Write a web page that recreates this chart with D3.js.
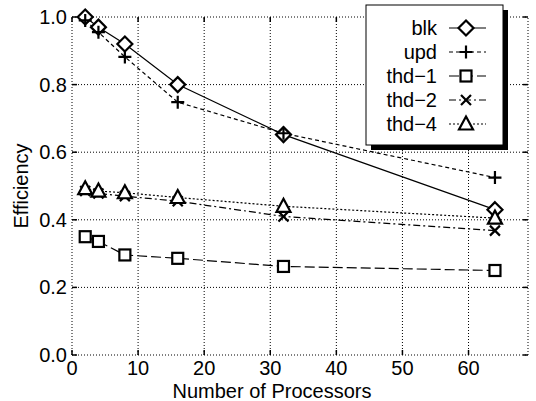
<!DOCTYPE html>
<meta charset="UTF-8">
<head>
  <style>
    body { margin: 0; background: #fff; }
    text { font-family: "Liberation Sans", Arial, sans-serif; fill: #000; }
    .grid line { stroke: #000; stroke-width: 1; stroke-dasharray: 1,2; }
    .series { fill: none; stroke: #000; stroke-width: 1.2; }
    .mark { fill: #fff; stroke: #000; stroke-width: 2.2; }
  </style>
</head>
<body>
  <div id="chart"></div>
  <script src="https://d3js.org/d3.v7.min.js"></script>
  <script>
    // processors on x axis
    var procs = [2, 4, 8, 16, 32, 64];
    var seriesNames = ["blk", "upd", "thd\u22121", "thd\u22122", "thd\u22124"];
    var blk  = [1.00, 0.970, 0.920, 0.800, 0.652, 0.430];
    var upd  = [0.990, 0.955, 0.882, 0.748, 0.656, 0.525];
    var thd1 = [0.350, 0.336, 0.296, 0.286, 0.262, 0.250];
    var thd2 = [0.485, 0.478, 0.470, 0.455, 0.410, 0.368];
    var thd4 = [0.492, 0.485, 0.480, 0.466, 0.440, 0.405];
    var xTicks = [0, 10, 20, 30, 40, 50, 60];
    var yTicks = [0.0, 0.2, 0.4, 0.6, 0.8, 1.0];

    var allSeries = [blk, upd, thd1, thd2, thd4];
    var dashes = ["none", "4,3", "10,4", "7,3,2,3", "2,2"];
    var shapes = ["diamond", "plus", "square", "cross", "triangle"];

    var width = 536, height = 401;
    var margin = { left: 72, right: 8, top: 17, bottom: 46 };
    var fs = 20;

    var svg = d3.select("#chart").append("svg")
      .attr("width", width)
      .attr("height", height);

    var x = d3.scaleLinear().domain([0, 69]).range([margin.left, width - margin.right]);
    var y = d3.scaleLinear().domain([0, 1]).range([height - margin.bottom, margin.top]);

    // grid
    var grid = svg.append("g").attr("class", "grid");
    grid.selectAll(".gx").data(xTicks).enter().append("line")
      .attr("x1", function (d) { return x(d); }).attr("x2", function (d) { return x(d); })
      .attr("y1", y(0)).attr("y2", y(1));
    grid.append("line").attr("x1", x(69)).attr("x2", x(69)).attr("y1", y(0)).attr("y2", y(1));
    grid.selectAll(".gy").data(yTicks).enter().append("line")
      .attr("x1", x(0)).attr("x2", x(69))
      .attr("y1", function (d) { return y(d); }).attr("y2", function (d) { return y(d); });

    // small solid ticks
    var ticks = svg.append("g").attr("stroke", "#000").attr("stroke-width", 1.5);
    xTicks.forEach(function (t) {
      ticks.append("line").attr("x1", x(t)).attr("x2", x(t)).attr("y1", y(0)).attr("y2", y(0) - 5);
      ticks.append("line").attr("x1", x(t)).attr("x2", x(t)).attr("y1", y(1)).attr("y2", y(1) + 5);
    });
    yTicks.forEach(function (t) {
      ticks.append("line").attr("x1", x(0)).attr("x2", x(0) + 5).attr("y1", y(t)).attr("y2", y(t));
      ticks.append("line").attr("x1", x(69)).attr("x2", x(69) - 5).attr("y1", y(t)).attr("y2", y(t));
    });

    // tick labels
    svg.append("g").selectAll("text").data(xTicks).enter().append("text")
      .attr("x", function (d) { return x(d); })
      .attr("y", y(0) + 20)
      .attr("text-anchor", "middle")
      .attr("font-size", fs)
      .text(function (d) { return d; });
    svg.append("g").selectAll("text").data(yTicks).enter().append("text")
      .attr("x", x(0) - 5)
      .attr("y", function (d) { return y(d) + 7; })
      .attr("text-anchor", "end")
      .attr("font-size", fs)
      .text(function (d) { return d.toFixed(1); });

    svg.append("text")
      .attr("x", 272)
      .attr("y", height - 3)
      .attr("text-anchor", "middle")
      .attr("font-size", fs)
      .text("Number of Processors");
    svg.append("text")
      .attr("transform", "translate(28," + (y(0.5)) + ") rotate(-90)")
      .attr("text-anchor", "middle")
      .attr("font-size", fs)
      .text("Efficiency");

    function drawMark(g, shape, cx, cy) {
      if (shape === "diamond") {
        g.append("path").attr("class", "mark")
          .attr("d", "M" + cx + "," + (cy - 7.5) + "L" + (cx + 7.5) + "," + cy + "L" + cx + "," + (cy + 7.5) + "L" + (cx - 7.5) + "," + cy + "Z");
      } else if (shape === "square") {
        g.append("rect").attr("class", "mark")
          .attr("x", cx - 5.5).attr("y", cy - 5.5).attr("width", 11).attr("height", 11);
      } else if (shape === "triangle") {
        g.append("path").attr("class", "mark")
          .attr("d", "M" + cx + "," + (cy - 7.5) + "L" + (cx + 7) + "," + (cy + 5.5) + "L" + (cx - 7) + "," + (cy + 5.5) + "Z");
      } else if (shape === "plus") {
        g.append("path").attr("class", "mark")
          .attr("d", "M" + (cx - 6.5) + "," + cy + "H" + (cx + 6.5) + "M" + cx + "," + (cy - 6.5) + "V" + (cy + 6.5));
      } else if (shape === "cross") {
        g.append("path").attr("class", "mark")
          .attr("d", "M" + (cx - 5) + "," + (cy - 5) + "L" + (cx + 5) + "," + (cy + 5) + "M" + (cx + 5) + "," + (cy - 5) + "L" + (cx - 5) + "," + (cy + 5));
      }
    }

    var line = d3.line()
      .x(function (d, i) { return x(procs[i]); })
      .y(function (d) { return y(d); });

    allSeries.forEach(function (s, k) {
      svg.append("path").attr("class", "series")
        .attr("d", line(s))
        .attr("stroke-dasharray", dashes[k]);
    });
    allSeries.forEach(function (s, k) {
      var g = svg.append("g");
      s.forEach(function (v, i) { drawMark(g, shapes[k], x(procs[i]), y(v)); });
    });

    // legend with drop shadow
    var lg = svg.append("g");
    lg.append("rect").attr("x", 371).attr("y", 10).attr("width", 137).attr("height", 140).attr("fill", "#000");
    lg.append("rect").attr("x", 366).attr("y", 5).attr("width", 137).attr("height", 140)
      .attr("fill", "#fff").attr("stroke", "#000").attr("stroke-width", 1);
    seriesNames.forEach(function (name, k) {
      var ry = 28 + k * 24;
      lg.append("text").attr("x", 437).attr("y", ry + 7)
        .attr("text-anchor", "end").attr("font-size", fs).text(name);
      lg.append("line").attr("class", "series")
        .attr("x1", 449).attr("x2", 486).attr("y1", ry).attr("y2", ry)
        .attr("stroke-dasharray", dashes[k]);
      drawMark(lg, shapes[k], 466, ry);
    });
  </script>
</body>
